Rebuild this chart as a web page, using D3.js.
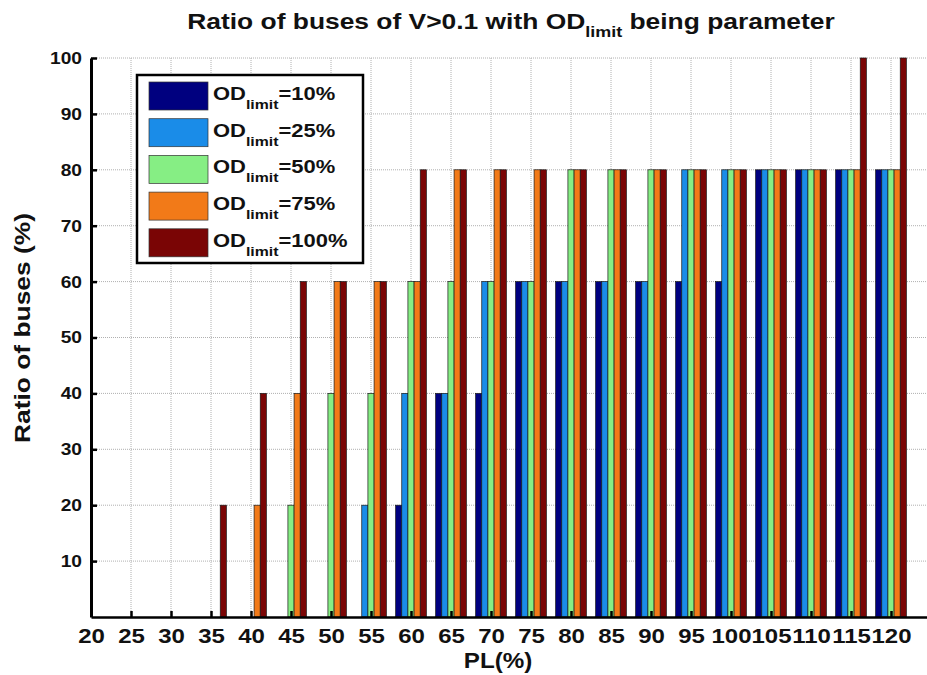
<!DOCTYPE html>
<html>
<head>
<meta charset="utf-8">
<script src="https://cdn.jsdelivr.net/npm/d3@7"></script>
<style>
  body { margin: 0; background: #fff; }
  svg text { font-family: "Liberation Sans", Arial, sans-serif; font-weight: bold; fill: #111; }
</style>
</head>
<body>
<svg id="canvas" width="927" height="675"></svg>
<script>
// PL(%) categories
let categories = [20, 25, 30, 35, 40, 45, 50, 55, 60, 65, 70, 75, 80, 85, 90, 95, 100, 105, 110, 115, 120]

// OD limit series
let seriesNames = ['10%', '25%', '50%', '75%', '100%']
let seriesColors = ['#00007f', '#1a8ce8', '#86ee84', '#f27a18', '#7a0505']

// ratio of buses (%) for each OD limit, one value per PL category
let od10  = [0, 0, 0, 0, 0, 0, 0, 0, 20, 40, 40, 60, 60, 60, 60, 60, 60, 80, 80, 80, 80]
let od25  = [0, 0, 0, 0, 0, 0, 0, 20, 40, 40, 60, 60, 60, 60, 60, 80, 80, 80, 80, 80, 80]
let od50  = [0, 0, 0, 0, 0, 20, 40, 40, 60, 60, 60, 60, 80, 80, 80, 80, 80, 80, 80, 80, 80]
let od75  = [0, 0, 0, 0, 20, 40, 60, 60, 60, 80, 80, 80, 80, 80, 80, 80, 80, 80, 80, 80, 80]
let od100 = [0, 0, 0, 20, 40, 60, 60, 60, 80, 80, 80, 80, 80, 80, 80, 80, 80, 80, 80, 100, 100]
let seriesValues = [od10, od25, od50, od75, od100]

let yTicks = [10, 20, 30, 40, 50, 60, 70, 80, 90, 100]

let canvas = d3.select('#canvas')

let plotLeft = 91, plotRight = 927, plotTop = 58, plotBottom = 617

// the original figure's lettering is a bit wider than Arial
let stretch = 1.2

let xScale = d3.scaleLinear()
    .domain([20, 20 + (plotRight - plotLeft) / 8])
    .range([plotLeft, plotRight])

let yScale = d3.scaleLinear()
    .domain([0, 100])
    .range([plotBottom, plotTop])

// bars of one group share 0.77 of the category step (matlab style)
let step = xScale(25) - xScale(20)
let groupWidth = step * 0.77
let inner = d3.scaleBand()
    .domain(d3.range(seriesNames.length))
    .range([-groupWidth / 2, groupWidth / 2])

// grid
let grid = canvas.append('g')
grid.selectAll('line.hgrid')
    .data(yTicks)
    .enter()
    .append('line')
    .attr('x1', plotLeft).attr('x2', plotRight)
    .attr('y1', d => yScale(d)).attr('y2', d => yScale(d))
    .attr('stroke', '#b0b0b0')
    .attr('stroke-dasharray', '1,1')
grid.selectAll('line.vgrid')
    .data(categories.slice(1))
    .enter()
    .append('line')
    .attr('x1', d => xScale(d)).attr('x2', d => xScale(d))
    .attr('y1', plotTop).attr('y2', plotBottom)
    .attr('stroke', '#b0b0b0')
    .attr('stroke-dasharray', '1,1')

// bars
let bars = []
seriesValues.forEach((vals, s) => {
    vals.forEach((v, i) => {
        if (v > 0) bars.push({ cat: categories[i], s: s, v: v })
    })
})

canvas.append('g')
    .selectAll('rect')
    .data(bars)
    .enter()
    .append('rect')
    .attr('x', d => xScale(d.cat) + inner(d.s))
    .attr('width', inner.bandwidth())
    .attr('y', d => yScale(d.v))
    .attr('height', d => yScale(0) - yScale(d.v))
    .attr('fill', d => seriesColors[d.s])
    .attr('stroke', '#1a1a1a')
    .attr('stroke-width', 0.7)

// axes
let yAxis = d3.axisLeft(yScale)
    .tickValues(yTicks)
    .tickSizeInner(-6)
    .tickSizeOuter(0)
    .tickPadding(9)
let gy = canvas.append('g')
    .attr('transform', `translate(${plotLeft},0)`)
    .call(yAxis)
gy.select('.domain').attr('stroke', '#000').attr('stroke-width', 3)
gy.selectAll('.tick line').attr('stroke', '#000').attr('stroke-width', 2.5)
gy.selectAll('.tick text')
    .style('font-size', '17px').attr('fill', '#111')
    .attr('x', 0)
    .attr('transform', 'translate(-9,0) scale(1.13,1)')

let xAxis = d3.axisBottom(xScale)
    .tickValues(categories)
    .tickSizeInner(-6)
    .tickSizeOuter(0)
    .tickPadding(12)
let gx = canvas.append('g')
    .attr('transform', `translate(0,${plotBottom})`)
    .call(xAxis)
gx.select('.domain').attr('stroke', '#000').attr('stroke-width', 2.5)
gx.selectAll('.tick line').attr('stroke', '#000').attr('stroke-width', 2.5)
gx.selectAll('.tick text')
    .style('font-size', '20px').attr('fill', '#111')
    .attr('transform', `scale(${stretch},1)`)

// titles
let title = canvas.append('text')
    .attr('transform', `translate(511,29) scale(${stretch},1)`)
    .attr('text-anchor', 'middle')
    .style('font-size', '22px')
title.append('tspan').text('Ratio of buses of V>0.1 with OD')
title.append('tspan').text('limit').attr('dy', 8).style('font-size', '15px')
title.append('tspan').text(' being parameter').attr('dy', -8)

canvas.append('text')
    .attr('transform', `translate(498,668) scale(1.1,1)`)
    .attr('text-anchor', 'middle')
    .style('font-size', '22px')
    .text('PL(%)')

canvas.append('text')
    .attr('transform', `translate(30,328) rotate(-90) scale(${stretch},1)`)
    .attr('text-anchor', 'middle')
    .style('font-size', '22px')
    .text('Ratio of buses (%)')

// legend
let legend = canvas.append('g')
legend.append('rect')
    .attr('x', 137).attr('y', 75)
    .attr('width', 226).attr('height', 188)
    .attr('fill', '#fff')
    .attr('stroke', '#000')
    .attr('stroke-width', 2.5)

let rows = legend.selectAll('g.row')
    .data(seriesNames)
    .enter()
    .append('g')
    .attr('transform', (d, i) => `translate(149,${82 + i * 36.7})`)
rows.append('rect')
    .attr('width', 59).attr('height', 28)
    .attr('fill', (d, i) => seriesColors[i])
    .attr('stroke', '#333')
    .attr('stroke-width', 0.7)
let lt = rows.append('text')
    .attr('transform', `translate(64,18) scale(1.22,1)`)
    .style('font-size', '18px')
lt.append('tspan').text('OD')
lt.append('tspan').text('limit').attr('dy', 9).style('font-size', '13px')
lt.append('tspan').text(d => '=' + d).attr('dy', -9)
</script>
</body>
</html>
